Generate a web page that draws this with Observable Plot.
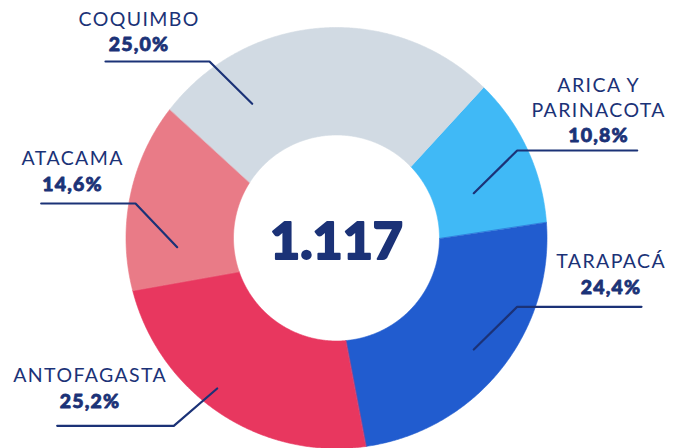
<!DOCTYPE html>
<html><head><meta charset="utf-8">
<script src="https://cdn.jsdelivr.net/npm/d3@7"></script>
<script src="https://cdn.jsdelivr.net/npm/@observablehq/plot@0.6"></script>
<style>
html,body{margin:0;padding:0;background:#fff;}
#chart{width:680px;height:448px;overflow:hidden;}
</style></head><body><div id="chart"></div>
<script>
// ---- data ----
const regions = ["ARICA Y PARINACOTA", "TARAPACÁ", "ANTOFAGASTA", "ATACAMA", "COQUIMBO"];
const regionLabels = ["ARICA Y\nPARINACOTA", "TARAPACÁ", "ANTOFAGASTA", "ATACAMA", "COQUIMBO"];
const shares = [10.8, 24.4, 25.2, 14.6, 25.0];
const total = 1117;

// ---- style ----
const palette = ["#40b9f6", "#215ccf", "#e8375f", "#e97b87", "#d1dae3"];
const ink = "#1b3277";

// ---- layout ----
const ring = {cx: 336, cy: 237.5, outer: 210.5, inner: 103};
const apex = {x: 329, y: 255};
const startAngle = 42.5; // degrees, clockwise from 12 o'clock
const labelLayout = [
  {x: 597.5, y: 141.7, leader: [[636.7, 150], [516.7, 150], [473.3, 192.7]]},
  {x: 610,   y: 293,   leader: [[641, 306.3], [516.7, 306.3], [473.3, 349]]},
  {x: 89,    y: 407.3, leader: [[56.7, 425.3], [173.3, 425.3], [216.7, 388]]},
  {x: 71.5,  y: 190,   leader: [[40.7, 203], [135, 203], [176.7, 246.7]]},
  {x: 138,   y: 50.7,  leader: [[105, 61], [209, 61], [251.7, 103.3]]}
];
const nameGap = 25.5;

// ---- build slice polygons from the pie angles ----
const pie = d3.pie().sort(null).value(d => d)
  .startAngle(startAngle * Math.PI / 180)
  .endAngle((startAngle + 360) * Math.PI / 180);
const arcs = pie(shares);
function hit(theta, rho) {
  const dx = Math.sin(theta), dy = -Math.cos(theta);
  const px = apex.x - ring.cx, py = apex.y - ring.cy;
  const b = dx * px + dy * py;
  const c = px * px + py * py - rho * rho;
  const t = -b + Math.sqrt(b * b - c);
  return [apex.x + t * dx, apex.y + t * dy];
}
const slicePts = [];
arcs.forEach((a, i) => {
  const n = Math.max(8, Math.ceil((a.endAngle - a.startAngle) / (0.4 * Math.PI / 180)));
  for (let k = 0; k <= n; k++) {
    const th = a.startAngle + (a.endAngle - a.startAngle) * k / n;
    const [x, y] = hit(th, ring.outer);
    slicePts.push({region: regions[i], x, y});
  }
  for (let k = n; k >= 0; k--) {
    const th = a.startAngle + (a.endAngle - a.startAngle) * k / n;
    const [x, y] = hit(th, ring.inner);
    slicePts.push({region: regions[i], x, y});
  }
});

const leaderPts = [];
labelLayout.forEach((l, i) => l.leader.forEach(([x, y]) => leaderPts.push({region: regions[i], x, y})));

const loc = d3.formatLocale({decimal: ",", thousands: ".", grouping: [3], currency: ["$", ""]});
const fmtPct = v => loc.format(".1f")(v) + "%";
const fmtTotal = loc.format(",d");

const labels = regions.map((r, i) => ({
  region: r, name: regionLabels[i], pct: fmtPct(shares[i]),
  x: labelLayout[i].x, y: labelLayout[i].y
}));

const nameFont = 19.5;
const nameSpacing = 1.4;
const pctSpacing = 1.2;
const chart = Plot.plot({
  width: 680, height: 448, margin: 0,
  x: {domain: [0, 680], range: [0, 680], axis: null},
  y: {domain: [0, 448], range: [0, 448], axis: null},
  color: {domain: regions, range: palette},
  style: {background: "#fff", fontFamily: "Lato, 'Open Sans', sans-serif"},
  marks: [
    Plot.line(slicePts, {x: "x", y: "y", z: "region", fill: "region", stroke: "region", strokeWidth: 0.6, curve: "linear-closed"}),
    Plot.line(leaderPts, {x: "x", y: "y", z: "region", stroke: ink, strokeWidth: 2.2, curve: "linear"}),
    Plot.text(labels, {x: "x", y: d => d.y - nameGap, text: "name", fill: ink, fontSize: nameFont,
      fontWeight: 400, lineAnchor: "bottom", textAnchor: "middle", lineHeight: 25 / nameFont,
      dx: nameSpacing / 2}),
    Plot.text(labels, {x: "x", y: "y", text: "pct", fill: ink, stroke: ink, strokeWidth: 0.8,
      strokeLinejoin: "round", fontSize: 19.5, fontWeight: 900,
      lineAnchor: "bottom", textAnchor: "middle", dx: pctSpacing / 2}),
    Plot.text([total], {x: () => ring.cx, y: () => 258.3, text: d => fmtTotal(d), fill: ink,
      stroke: ink, strokeWidth: 2, strokeLinejoin: "round",
      fontSize: 52, fontWeight: 900, lineAnchor: "bottom", textAnchor: "middle"})
  ]
});
const textGroups = chart.querySelectorAll('g[aria-label="text"]');
if (textGroups[0]) textGroups[0].style.letterSpacing = nameSpacing + "px";
if (textGroups[1]) textGroups[1].style.letterSpacing = pctSpacing + "px";
document.getElementById("chart").appendChild(chart);
</script>
</body></html>
